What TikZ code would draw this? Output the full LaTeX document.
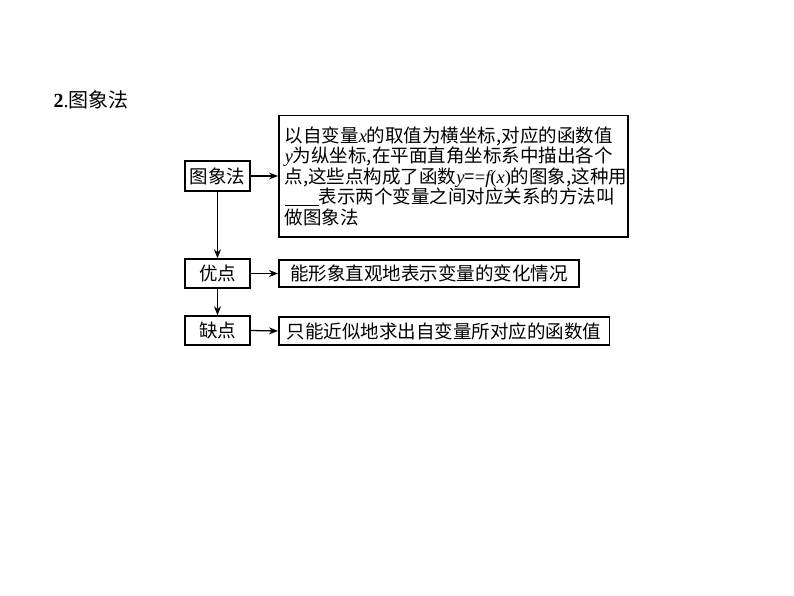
\documentclass[tikz,border=0pt]{standalone}
\usepackage{fontspec}
\setmainfont{Liberation Serif}
\newfontfamily\cjk{Noto Sans CJK SC}
\newcommand{\mi}[1]{{\rmfamily\itshape #1}}
\usetikzlibrary{arrows.meta}
\begin{document}
\begin{tikzpicture}[x=1pt,y=-1pt,
  bx/.style={draw,line width=1.5pt,inner sep=0pt,font=\cjk\fontsize{18.5}{20.5}\selectfont},
  ar/.style={-{Stealth[length=9pt,width=7pt]},line width=1.3pt}]
\useasboundingbox (0,0) rectangle (794,596);
\node[anchor=west,font=\fontsize{20}{22}\selectfont] (t) at (50,100) {\textbf{2}.{\cjk 图象法}};
\node[bx,minimum width=65pt,minimum height=30pt] (a) at (217.5,176) {图象法};
\node[bx,minimum width=65pt,minimum height=29pt] (b) at (217.5,273.5) {优点};
\node[bx,minimum width=65pt,minimum height=29pt] (c) at (217.5,330.5) {缺点};
\node[bx,minimum width=349pt,minimum height=121pt,anchor=north west,align=left,text width=337pt,inner xsep=6pt] (d) at (278,115)
 {以自变量\mi{x}的取值为横坐标,对应的函数值\\
 \mi{y}为纵坐标,在平面直角坐标系中描出各个\\
 点,这些点构成了函数\mi{y}={\rmfamily =}\mi{f}{\rmfamily (}\mi{x}{\rmfamily )}的图象,这种用\\
 \underline{\hspace{34pt}}表示两个变量之间对应关系的方法叫\\
 做图象法};
\node[bx,minimum width=300pt,minimum height=27pt,anchor=west,inner xsep=8pt] (e) at (278,273.5) {能形象直观地表示变量的变化情况};
\node[bx,minimum width=330pt,minimum height=28pt,anchor=west,inner xsep=8pt] (f) at (278,331) {只能近似地求出自变量所对应的函数值};
\draw[ar] (a.east) -- (a.east-|d.west);
\draw[ar] (b.east) -- (e.west);
\draw[ar] (c.east) -- (f.west);
\draw[ar] (a.south) -- (b.north);
\draw[ar] (b.south) -- (c.north);
\end{tikzpicture}
\end{document}
